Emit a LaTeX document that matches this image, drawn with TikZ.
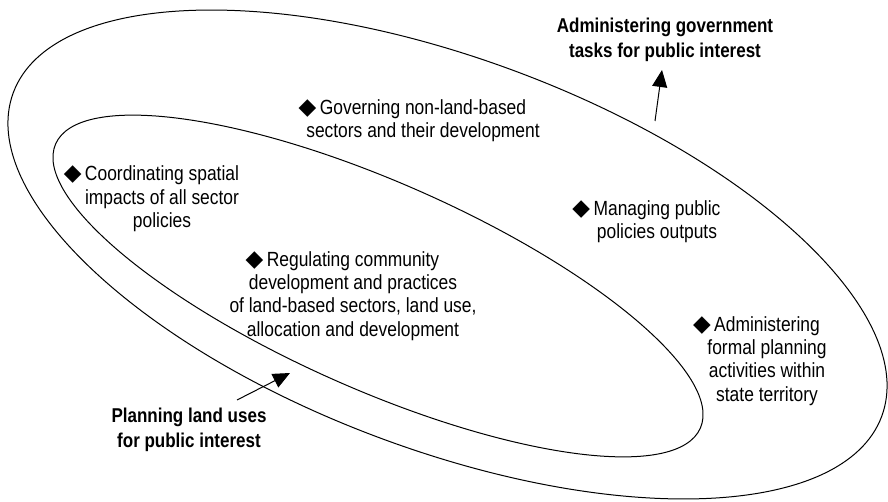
\documentclass[tikz,border=0pt]{standalone}
\usepackage{fontspec}
\setmainfont{Liberation Sans}[FakeStretch=0.85]
\newfontfamily\diafont{DejaVu Sans}
\usetikzlibrary{arrows.meta}
\newcommand{\dia}{\llap{{\diafont\fontsize{23}{23}\selectfont\char"25C6}\hspace{3.5pt}}}

\begin{document}
\begin{tikzpicture}[x=1pt, y=-1pt, line width=1pt,
  item/.style={align=center, inner sep=0pt, font=\fontsize{20.5}{23.3}\selectfont},
  head/.style={align=center, inner sep=0pt, font=\fontsize{20}{25}\selectfont\bfseries},
  pointer/.style={-{Triangle[length=17pt, width=15pt]}, line width=1pt}]
  \useasboundingbox (0,0) rectangle (888,502);

  % the two fields
  \begin{scope}[shift={(447.5,254.5)}, rotate=-20.45]
    \draw (0,0) ellipse (463.4 and 195.5);
  \end{scope}
  \begin{scope}[shift={(378,286)}, rotate=-23.8]
    \draw (0,0) ellipse (352.3 and 103.6);
  \end{scope}

  \node[head] (gov) at (665,40) {Administering government\\tasks for public interest};
  \node[head] (plan) at (189,430) {Planning land uses\\for public interest};

  \node[item] (governing) at (423,121) {\dia Governing non-land-based\\sectors and their development};
  \node[item] (coord) at (162,199) {\dia Coordinating spatial\\impacts of all sector\\policies};
  \node[item] (managing) at (657,222) {\dia Managing public\\policies outputs};
  \node[item] (regulating) at (353,296) {\dia Regulating community\\development and practices\\of land-based sectors, land use,\\allocation and development};
  \node[item] (adminform) at (767,361) {\dia Administering\\formal planning\\activities within\\state territory};

  \coordinate (govfoot) at (655,121);
  \coordinate (govtip) at (662,70);
  \coordinate (planfoot) at (237,400);
  \coordinate (plantip) at (290,373);
  \draw[pointer] (govfoot) -- (govtip);
  \draw[pointer] (planfoot) -- (plantip);
\end{tikzpicture}
\end{document}
